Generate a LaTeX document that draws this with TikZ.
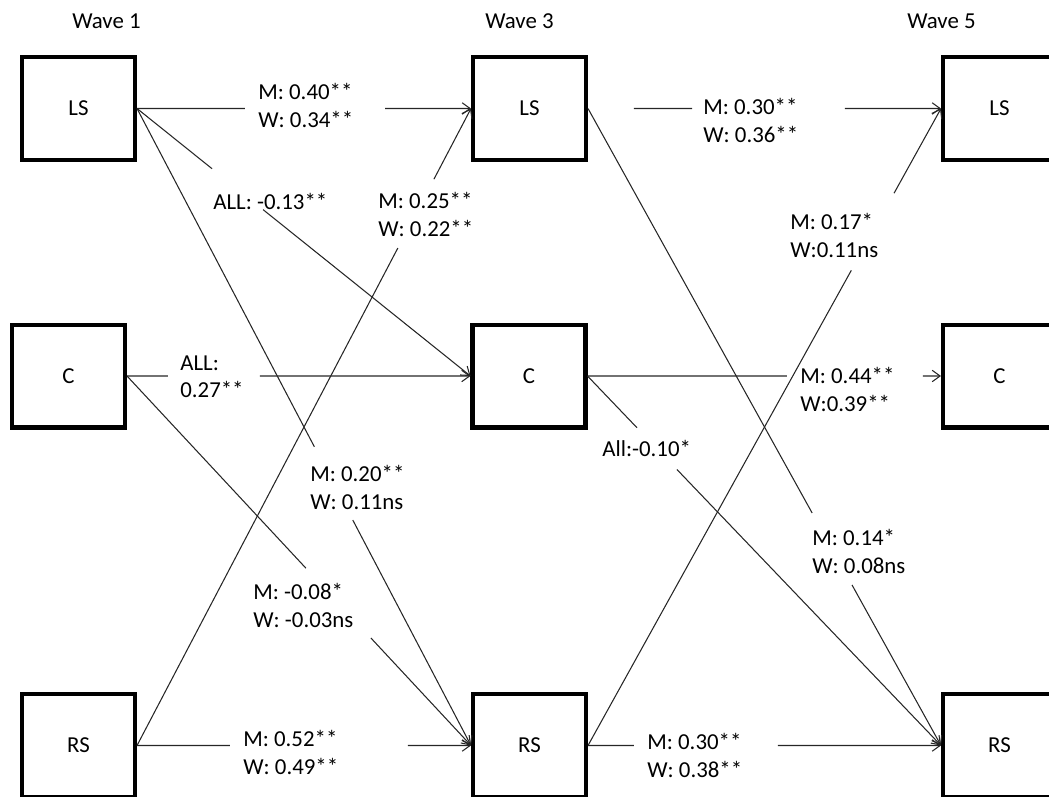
\documentclass[tikz,border=0pt]{standalone}
\usepackage{fontspec}
\setmainfont{Carlito}
\usetikzlibrary{arrows.meta,calc}
\newcommand{\garrow}[4]{\draw[conn] (#1) -- ($(#1)!#3!(#2)$) ($(#1)!#4!(#2)$) -- (#2);}

\begin{document}
\begin{tikzpicture}[x=0.02cm,y=-0.02cm,
    font=\fontsize{13pt}{15.9pt}\selectfont,
    >={Straight Barb[length=4.5pt,width=6.5pt]},
    box/.style={draw,line width=2.3pt,minimum width=2.26cm,minimum height=2.06cm,inner sep=0pt},
    lbl/.style={anchor=north west,inner sep=0pt,align=left},
    conn/.style={->,line width=.6pt,black!85}]
    \useasboundingbox (0,0) rectangle (1049,796);

    \node [anchor=north west,inner sep=0pt] (w1) at (72,13) {Wave 1};
    \node [anchor=north west,inner sep=0pt] (w3) at (485,13) {Wave 3};
    \node [anchor=north west,inner sep=0pt] (w5) at (907,13) {Wave 5};

    \node [box] (ls1) at (78.5,108.5) {LS};
    \node [box] (c1) at (68.5,376) {C};
    \node [box] (rs1) at (78.5,745.5) {RS};

    \node [box] (ls3) at (529.5,108.5) {LS};
    \node [box] (c3) at (529,376) {C};
    \node [box] (rs3) at (529.5,745.5) {RS};

    \node [box] (ls5) at (999.5,108.5) {LS};
    \node [box] (c5) at (999.5,376) {C};
    \node [box] (rs5) at (999.5,745.5) {RS};

    % wave 1 -> wave 3
    \garrow{ls1.east}{ls3.west}{.323}{.743}
    \garrow{ls1.east}{c3.west}{.225}{.378}
    \garrow{ls1.east}{rs3.west}{.531}{.646}
    \garrow{c1.east}{c3.west}{.119}{.387}
    \garrow{c1.east}{rs3.west}{.520}{.709}
    \garrow{rs1.east}{rs3.west}{.278}{.811}
    \garrow{rs1.east}{ls3.west}{.781}{.889}

    % wave 3 -> wave 5
    \draw [conn] ($(ls3.east)!.130!(ls5.west)$) -- ($(ls3.east)!.295!(ls5.west)$)
      ($(ls3.east)!.728!(ls5.west)$) -- (ls5.west);
    \garrow{ls3.east}{rs5.west}{.635}{.748}
    \garrow{c3.east}{c5.west}{.564}{.949}
    \garrow{c3.east}{rs5.west}{.140}{.253}
    \garrow{rs3.east}{rs5.west}{.130}{.538}
    \garrow{rs3.east}{ls5.west}{.746}{.867}

    \node [lbl] (e1) at (258,83) {M: 0.40**\\W: 0.34**};
    \node [lbl] (e2) at (703,98) {M: 0.30**\\W: 0.36**};
    \node [lbl] (e3) at (180,355) {ALL:\\0.27**};
    \node [lbl] (e4) at (800,367) {M: 0.44**\\W:0.39**};
    \node [lbl] (e5) at (243,730) {M: 0.52**\\W: 0.49**};
    \node [lbl] (e6) at (647,733) {M: 0.30**\\W: 0.38**};
    \node [lbl] (e7) at (213,193) {ALL: -0.13**};
    \node [lbl] (e8) at (310,465) {M: 0.20**\\W: 0.11ns};
    \node [lbl] (e9) at (812,529) {M: 0.14*\\W: 0.08ns};
    \node [lbl] (e10) at (253,583) {M: -0.08*\\W: -0.03ns};
    \node [lbl] (e11) at (378,192) {M: 0.25**\\W: 0.22**};
    \node [lbl] (e12) at (602,440) {All:-0.10*};
    \node [lbl] (e13) at (790,213) {M: 0.17*\\W:0.11ns};
\end{tikzpicture}
\end{document}
